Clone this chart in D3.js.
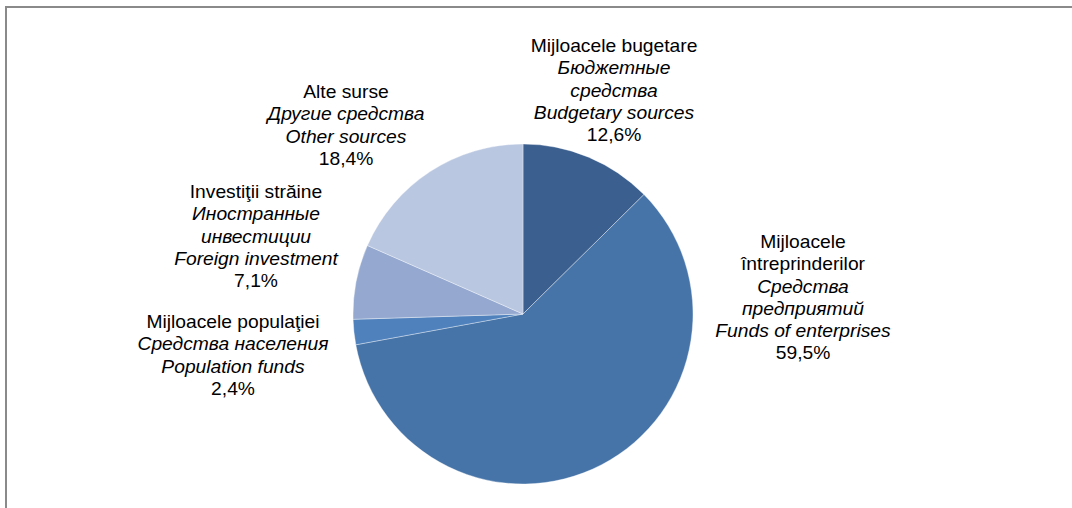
<!DOCTYPE html>
<html>
<head>
<meta charset="utf-8">
<script src="https://cdn.jsdelivr.net/npm/d3@7"></script>
<style>
  html, body { margin: 0; padding: 0; background: #fff; }
  svg { display: block; }
  text { font-family: "Liberation Sans", Arial, sans-serif; font-size: 17.5px; fill: #000; }
</style>
</head>
<body>
<script>
// slices, clockwise from 12 o'clock
const names_ro = ['Mijloacele bugetare', 'Mijloacele întreprinderilor', 'Mijloacele populaţiei', 'Investiţii străine', 'Alte surse']
const names_ru = ['Бюджетные средства', 'Средства предприятий', 'Средства населения', 'Иностранные инвестиции', 'Другие средства']
const names_en = ['Budgetary sources', 'Funds of enterprises', 'Population funds', 'Foreign investment', 'Other sources']
const shares = [12.6, 59.5, 2.4, 7.1, 18.4]
const colors = ['#3b5f8e', '#4674a8', '#4f81bd', '#95a9d0', '#b9c7e1']

// how each label wraps (lines of text, italic flag)
const labelLines = [
  [['Mijloacele bugetare', 0], ['Бюджетные', 1], ['средства', 1], ['Budgetary sources', 1]],
  [['Mijloacele', 0], ['întreprinderilor', 0], ['Средства', 1], ['предприятий', 1], ['Funds of enterprises', 1]],
  [['Mijloacele populaţiei', 0], ['Средства населения', 1], ['Population funds', 1]],
  [['Investiţii străine', 0], ['Иностранные', 1], ['инвестиции', 1], ['Foreign investment', 1]],
  [['Alte surse', 0], ['Другие средства', 1], ['Other sources', 1]]
]
// label anchor: centre x, baseline of first line
const labelPos = [[614, 52], [803, 248], [233, 328], [256, 198], [346, 98]]

const width = 1072, height = 508
const cx = 523, cy = 314, radius = 170
const lineH = 22.3

const svg = d3.select('body').append('svg')
  .attr('width', width)
  .attr('height', height)

// frame (runs off the right and bottom)
svg.append('rect')
  .attr('x', 6).attr('y', 7)
  .attr('width', width + 20).attr('height', height + 20)
  .attr('fill', 'none')
  .attr('stroke', '#8a8a8a')
  .attr('stroke-width', 2)

const pie = d3.pie().sort(null).value(d => d)
const arc = d3.arc().innerRadius(0).outerRadius(radius)

svg.append('g')
  .attr('transform', `translate(${cx},${cy})`)
  .selectAll('path')
  .data(pie(shares))
  .enter()
  .append('path')
  .attr('d', arc)
  .attr('fill', (d, i) => colors[i])
  .attr('stroke', '#ffffff')
  .attr('stroke-opacity', 0.6)
  .attr('stroke-width', 0.6)

const fmt = v => d3.format('.1f')(v).replace('.', ',') + '%'

// the original's text is a bit wider than Liberation Sans, so stretch it
shares.forEach((v, i) => {
  const lines = labelLines[i].concat([[fmt(v), 0]])
  const t = svg.append('text')
    .attr('text-anchor', 'middle')
    .attr('transform', `translate(${labelPos[i][0]},0) scale(1.1,1)`)
  lines.forEach((l, j) => {
    t.append('tspan')
      .attr('x', 0)
      .attr('y', labelPos[i][1] + j * lineH)
      .style('font-style', l[1] ? 'italic' : 'normal')
      .text(l[0])
  })
})
</script>
</body>
</html>
